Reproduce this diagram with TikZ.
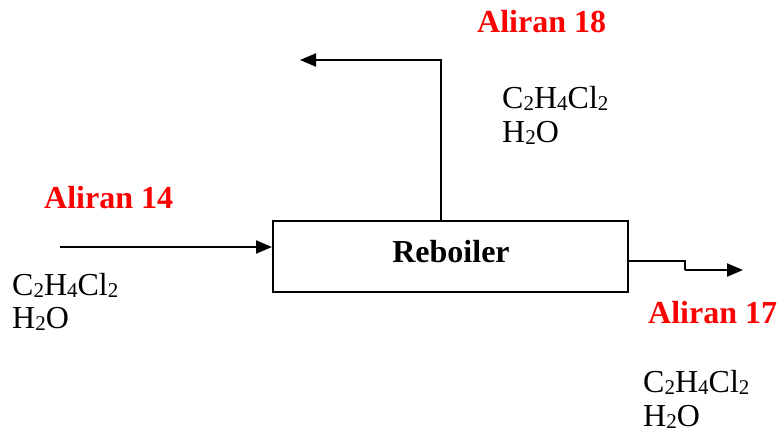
\documentclass[tikz,border=0pt]{standalone}
\usepackage{fontspec}
\setmainfont{Liberation Serif}
\usetikzlibrary{arrows.meta}
\definecolor{alred}{RGB}{255,0,0}
\newcommand{\lowidx}[1]{\raisebox{-2.5pt}{\fontsize{21}{21}\selectfont #1}}
\tikzset{
  flow/.style={line width=2pt, -{Triangle[length=16pt,width=13pt]}},
  plainline/.style={line width=2pt},
  unitbox/.style={draw, line width=2pt, minimum width=355pt, minimum height=71pt, inner sep=0pt},
  unittext/.style={anchor=base, inner sep=0pt, font=\fontsize{32}{34}\selectfont\bfseries},
  streamlabel/.style={anchor=base west, inner sep=0pt, text=alred, font=\fontsize{32}{34}\selectfont\bfseries},
  comp/.style={anchor=base west, inner sep=0pt, font=\fontsize{32}{34}\selectfont},
}
\begin{document}
\begin{tikzpicture}[x=1pt,y=-1pt]
\useasboundingbox (0,0) rectangle (777,432);
\node[unitbox] (reb) at (450.5,256.5) {};
\node[unittext] (rebtxt) at (451,262) {Reboiler};
% inlet 14
\coordinate (s14) at (60,247);
\draw[flow] (s14) -- (s14 -| reb.west);
\node[streamlabel] (l14) at (44,208) {Aliran 14};
\node[comp] (c14a) at (12,295) {C\lowidx{2}H\lowidx{4}Cl\lowidx{2}};
\node[comp] (c14b) at (12,328) {H\lowidx{2}O};
% top 18
\coordinate (r18) at (441,221);
\coordinate (t18) at (300,60);
\draw[flow] (r18) |- (t18);
\node[streamlabel] (l18) at (477,32) {Aliran 18};
\node[comp] (c18a) at (502,108) {C\lowidx{2}H\lowidx{4}Cl\lowidx{2}};
\node[comp] (c18b) at (502,142) {H\lowidx{2}O};
% outlet 17
\coordinate (r17) at (628,261);
\coordinate (k17) at (685,261);
\coordinate (o17) at (743,270);
\draw[plainline] (r17) -- (k17) -- (k17 |- o17);
\draw[flow] (k17 |- o17) -- (o17);
\node[streamlabel] (l17) at (648,323) {Aliran 17};
\node[comp] (c17a) at (643,392) {C\lowidx{2}H\lowidx{4}Cl\lowidx{2}};
\node[comp] (c17b) at (643,426) {H\lowidx{2}O};
\end{tikzpicture}
\end{document}
